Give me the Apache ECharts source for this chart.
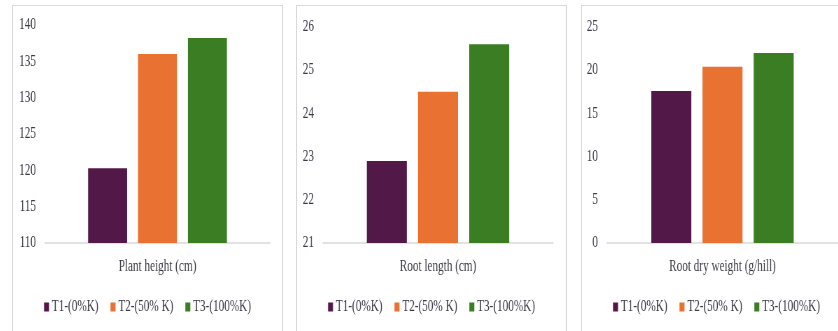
<!DOCTYPE html>
<html>
<head>
<meta charset="utf-8">
<script src="https://cdn.jsdelivr.net/npm/echarts@6/dist/echarts.min.js"></script>
<style>
html,body{margin:0;padding:0;width:838px;height:331px;overflow:hidden;background:#fff;}
.panel{position:absolute;top:5px;width:271px;height:340px;border:1px solid #D9D9D9;box-sizing:border-box;overflow:hidden;background:#fff;}
.chart{position:absolute;left:0;top:0;height:338px;transform-origin:0 0;}
</style>
</head>
<body>
<div class="panel" id="p0" style="left:12px"><div class="chart" id="c0"></div></div>
<div class="panel" id="p1" style="left:296px"><div class="chart" id="c1"></div></div>
<div class="panel" id="p2" style="left:581px"><div class="chart" id="c2"></div></div>
<script>
// ---- data ----
const categories = ['Plant height (cm)', 'Root length (cm)', 'Root dry weight (g/hill)'];
const seriesNames = ['T1-(0%K)', 'T2-(50% K)', 'T3-(100%K)'];
const t1Values = [120.3, 22.9, 17.6];
const t2Values = [136.0, 24.5, 20.4];
const t3Values = [138.2, 25.6, 22.0];
const yMins = [110, 21, 0];
const yMaxs = [140, 26, 25];
const yIntervals = [5, 1, 5];

// ---- layout / style ----
const S = 0.70; // horizontal compression of the reference
const colors = ['#521948', '#E97132', '#3B7D23'];
const textColor = '#3b3b48';
const font = 'Liberation Serif, Times New Roman, serif';
const FS = 16;
const innerW = 269;
const gridLeft = [32, 26, 25];
const gridWidth = [225, 230, 231];
const gridTop = [19, 21, 21];
const gridHeight = [218, 216, 216];
const barW = [39, 40, 40];

const seriesValues = [t1Values, t2Values, t3Values];

for (let i = 0; i < 3; i++) {
  const el = document.getElementById('c' + i);
  const cw = innerW / S;
  el.style.width = cw + 'px';
  el.style.transform = 'scaleX(' + S + ')';
  const chart = echarts.init(el, null, {renderer: 'canvas', width: cw, height: 338});
  chart.setOption({
    animation: false,
    color: colors,
    grid: {
      left: gridLeft[i] / S,
      width: gridWidth[i] / S,
      top: gridTop[i],
      height: gridHeight[i],
      containLabel: false
    },
    legend: {
      data: seriesNames,
      left: 'center',
      top: 288,
      icon: 'rect',
      itemWidth: 5 / S,
      itemHeight: 9,
      itemGap: 12 / S,
      textStyle: {fontFamily: font, fontSize: FS, color: textColor, padding: [0, 0, 0, -1]}
    },
    xAxis: {
      type: 'category',
      data: [categories[i]],
      axisLine: {lineStyle: {color: '#D9D9D9', width: 1.5}},
      axisTick: {show: false},
      axisLabel: {fontFamily: font, fontSize: FS, color: textColor, margin: 16}
    },
    yAxis: {
      type: 'value',
      min: yMins[i],
      max: yMaxs[i],
      interval: yIntervals[i],
      splitLine: {show: false},
      axisLine: {show: false},
      axisTick: {show: false},
      axisLabel: {fontFamily: font, fontSize: FS, color: textColor, margin: 9 / S}
    },
    series: seriesNames.map((name, k) => ({
      name: name,
      type: 'bar',
      data: [seriesValues[k][i]],
      barWidth: barW[i] / S,
      barGap: '28%',
      itemStyle: {color: colors[k]}
    }))
  });
}
</script>
</body>
</html>
